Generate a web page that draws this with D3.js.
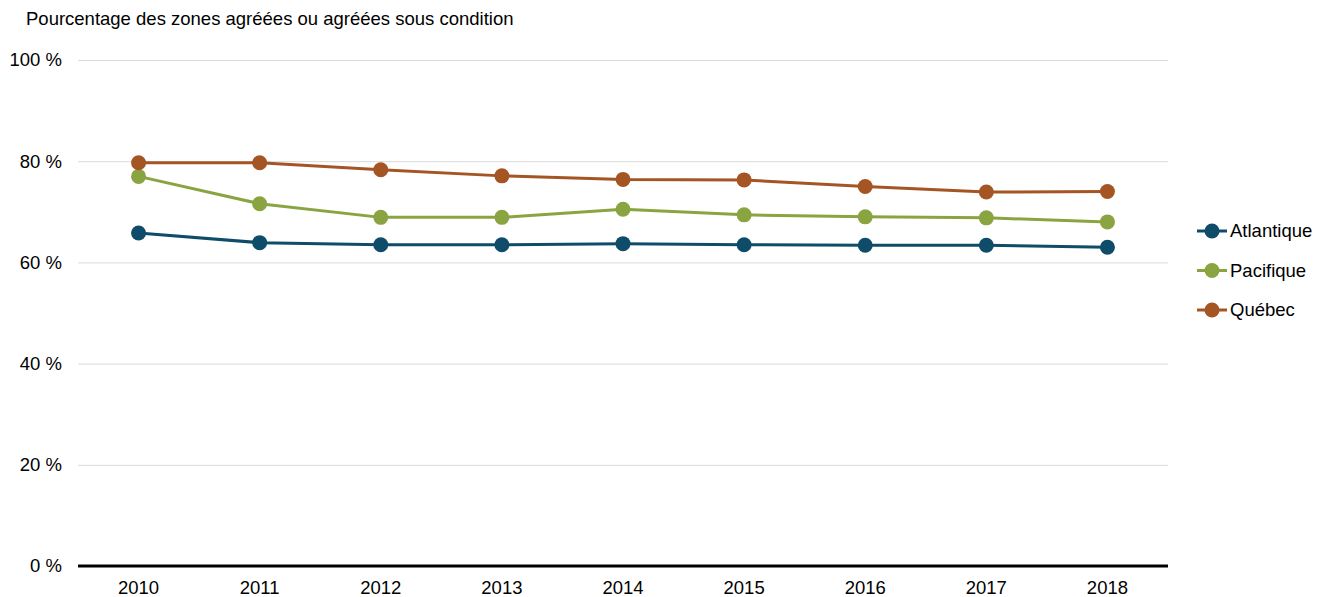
<!DOCTYPE html>
<html>
<head>
<meta charset="utf-8">
<script src="https://cdn.jsdelivr.net/npm/d3@7"></script>
<style>
    body { margin: 0; background: #fff; }
    svg text { font-family: "Liberation Sans", Arial, sans-serif; fill: #000; }
</style>
</head>
<body>
<div id="chart"></div>
<script>
"use strict";

var years = ["2010", "2011", "2012", "2013", "2014", "2015", "2016", "2017", "2018"];
var seriesNames = ["Atlantique", "Pacifique", "Québec"];
var atlantique = [65.8, 63.9, 63.5, 63.5, 63.7, 63.5, 63.4, 63.4, 63.0];
var pacifique = [77.0, 71.6, 68.9, 68.9, 70.5, 69.4, 69.0, 68.8, 68.0];
var quebec = [79.7, 79.7, 78.3, 77.1, 76.4, 76.3, 75.0, 73.9, 74.0];
var yTicks = [0, 20, 40, 60, 80, 100];
var colors = ["#0f4c69", "#8aa441", "#a55524"];

var W = 1322, H = 597;
var FONT = "18.5px";
var MARGIN = { left: 78, right: 154, top: 60, bottom: 31 };
var plotW = W - MARGIN.left - MARGIN.right;
var plotH = H - MARGIN.top - MARGIN.bottom;

var svg = d3.select("#chart").append("svg")
    .attr("width", W)
    .attr("height", H);

svg.append("text")
    .attr("x", 26)
    .attr("y", 25)
    .style("font-size", FONT)
    .text("Pourcentage des zones agréées ou agréées sous condition");

var g = svg.append("g")
    .attr("transform", "translate(" + MARGIN.left + "," + MARGIN.top + ")");

var x = d3.scaleBand().domain(years).range([0, plotW]);
var y = d3.scaleLinear().domain([0, 100]).range([plotH, 0]);

// gridlines + y labels
var yAxis = d3.axisLeft(y)
    .tickValues(yTicks)
    .tickSize(-plotW)
    .tickPadding(16)
    .tickFormat(function(d) { return d + " %"; });

g.append("g")
    .attr("class", "y-axis")
    .call(yAxis)
    .call(function(sel) {
        sel.select(".domain").remove();
        sel.selectAll(".tick line").attr("stroke", "#d9d9d9").attr("stroke-width", 1);
        sel.selectAll(".tick text").style("font-size", FONT).attr("fill", "#000");
    });

// x axis
var xAxis = d3.axisBottom(x).tickSize(0).tickPadding(15);
g.append("g")
    .attr("class", "x-axis")
    .attr("transform", "translate(0," + plotH + ")")
    .call(xAxis)
    .call(function(sel) {
        sel.select(".domain").remove();
        sel.selectAll(".tick text").style("font-size", FONT).attr("fill", "#000");
    });

g.append("line")
    .attr("x1", 0)
    .attr("x2", plotW)
    .attr("y1", y(0))
    .attr("y2", y(0))
    .attr("stroke", "#000")
    .attr("stroke-width", 3);

var series = [atlantique, pacifique, quebec].map(function(vals, i) {
    return {
        name: seriesNames[i],
        color: colors[i],
        values: vals.map(function(v, j) { return { year: years[j], value: v }; })
    };
});

var line = d3.line()
    .x(function(d) { return x(d.year) + x.bandwidth() / 2; })
    .y(function(d) { return y(d.value); });

var sg = g.selectAll(".series")
    .data(series)
    .enter().append("g")
    .attr("class", "series");

sg.append("path")
    .attr("d", function(d) { return line(d.values); })
    .attr("fill", "none")
    .attr("stroke", function(d) { return d.color; })
    .attr("stroke-width", 3);

sg.selectAll("circle")
    .data(function(d) { return d.values.map(function(v) { return { v: v, color: d.color }; }); })
    .enter().append("circle")
    .attr("cx", function(d) { return x(d.v.year) + x.bandwidth() / 2; })
    .attr("cy", function(d) { return y(d.v.value); })
    .attr("r", 7.5)
    .attr("fill", function(d) { return d.color; });

// legend
var legend = svg.append("g")
    .attr("class", "legend")
    .attr("transform", "translate(1197,231)");

var item = legend.selectAll(".item")
    .data(series)
    .enter().append("g")
    .attr("class", "item")
    .attr("transform", function(d, i) { return "translate(0," + (i * 39.5) + ")"; });

item.append("line")
    .attr("x1", 0).attr("x2", 30)
    .attr("stroke", function(d) { return d.color; })
    .attr("stroke-width", 3);

item.append("circle")
    .attr("cx", 15)
    .attr("r", 7.5)
    .attr("fill", function(d) { return d.color; });

item.append("text")
    .attr("x", 33)
    .attr("dy", "0.35em")
    .style("font-size", FONT)
    .text(function(d) { return d.name; });
</script>
</body>
</html>
